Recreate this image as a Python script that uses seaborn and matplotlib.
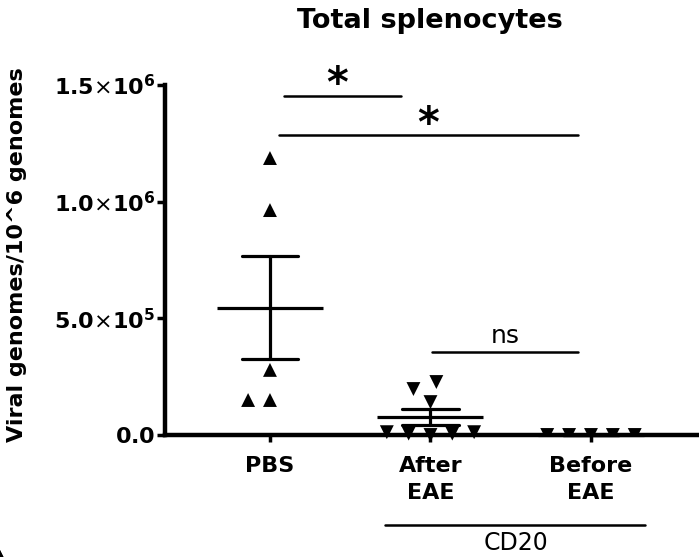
import numpy as np
import pandas as pd
import seaborn as sns
import matplotlib.pyplot as plt

sns.set_theme(style="ticks", rc={"axes.edgecolor": "black", "xtick.color": "black",
                                 "ytick.color": "black", "text.color": "black",
                                 "axes.labelcolor": "black"})
plt.rcParams['font.family'] = ['DejaVu Sans']

# data
groups = ["PBS", "After EAE", "Before EAE"]
tick_labels = ["PBS", "After\nEAE", "Before\nEAE"]
pbs = [1.187e6, 0.964e6, 0.279e6, 0.150e6, 0.150e6]
after_eae = [0.227e6, 0.197e6, 0.141e6, 0.012e6, 0.006e6, 0.0, 0.006e6, 0.012e6]
before_eae = [0.0, 0.0, 0.0, 0.0, 0.0]
y_ticks = [0, 5e5, 1e6, 1.5e6]
y_tick_labels = [r"$\mathbf{0.0}$",
                 r"$\mathbf{5.0}{\times}\mathbf{10}^{\mathbf{5}}$",
                 r"$\mathbf{1.0}{\times}\mathbf{10}^{\mathbf{6}}$",
                 r"$\mathbf{1.5}{\times}\mathbf{10}^{\mathbf{6}}$"]

df = pd.DataFrame({
    "group": ["PBS"] * len(pbs) + ["After EAE"] * len(after_eae) + ["Before EAE"] * len(before_eae),
    "value": pbs + after_eae + before_eae,
})

fig = plt.figure(figsize=(6.99, 5.57), dpi=100)
ax = fig.add_axes([165 / 699, 122 / 557, 534 / 699, 350 / 557])

# points (edge width only widens the swarm spacing, edges are not drawn)
n0 = len(ax.collections)
sns.swarmplot(data=df[df.group == "PBS"], x="group", y="value", order=groups,
              marker="^", size=10, color="black", linewidth=5, edgecolor="none", ax=ax)
for c in ax.collections[n0:]:
    c.set_clip_on(False)
n1 = len(ax.collections)
sns.swarmplot(data=df[df.group != "PBS"], x="group", y="value", order=groups,
              marker="v", size=10, color="black", linewidth=5, edgecolor="none", ax=ax)
for c in ax.collections[n1:]:
    offs = c.get_offsets()
    if len(offs) and np.mean(offs[:, 0]) < 1.5:
        c.set_clip_on(False)

# mean +/- SEM
sns.pointplot(data=df, x="group", y="value", order=groups, errorbar="se", capsize=0.35,
              color="black", marker="_", markersize=77, markeredgewidth=2.3,
              linestyle="none", err_kws={"linewidth": 2.3}, ax=ax)
for ln in ax.lines:
    ln.set_clip_on(False)

ax.set_xlim(-0.654, 2.673)
ax.set_ylim(0, 1.5e6)
ax.set_yticks(y_ticks)
ax.set_yticklabels(y_tick_labels)
ax.set_xticks([0, 1, 2])
ax.set_xticklabels(tick_labels, fontsize=16, fontweight="bold", linespacing=1.45)
ax.set_xlabel("")
ax.set_ylabel("Viral genomes/10^6 genomes", fontsize=16, fontweight="bold")
ax.yaxis.set_label_coords(-0.258, 0.514)

sns.despine(ax=ax)
for s in ["left", "bottom"]:
    ax.spines[s].set_linewidth(3.2)
ax.tick_params(axis="y", length=6, width=2.5, pad=1, labelsize=16)
ax.tick_params(axis="x", length=5, width=2.5, pad=10)

# significance bars
line_kw = dict(color="black", linewidth=1.8, clip_on=False)
ax.plot([0.087, 0.816], [1.453e6, 1.453e6], **line_kw)
ax.plot([0.056, 1.92], [1.286e6, 1.286e6], **line_kw)
ax.plot([1.01, 1.92], [0.356e6, 0.356e6], **line_kw)
ax.text(0.417, 1.50e6, "*", ha="center", va="center", fontsize=30, fontweight="bold")
ax.text(0.984, 1.33e6, "*", ha="center", va="center", fontsize=30, fontweight="bold")
ax.text(1.464, 0.394e6, "ns", ha="center", va="baseline", fontsize=18)

# CD20 group bar
ax.plot([0.716, 2.336], [-0.386e6, -0.386e6], **line_kw)
ax.text(1.53, -0.515e6, "CD20", ha="center", va="bottom", fontsize=17)

fig.text(0.615, 0.962, "Total splenocytes", ha="center", va="center",
         fontsize=19.5, fontweight="bold")

fig.savefig("out.png", dpi=100)
